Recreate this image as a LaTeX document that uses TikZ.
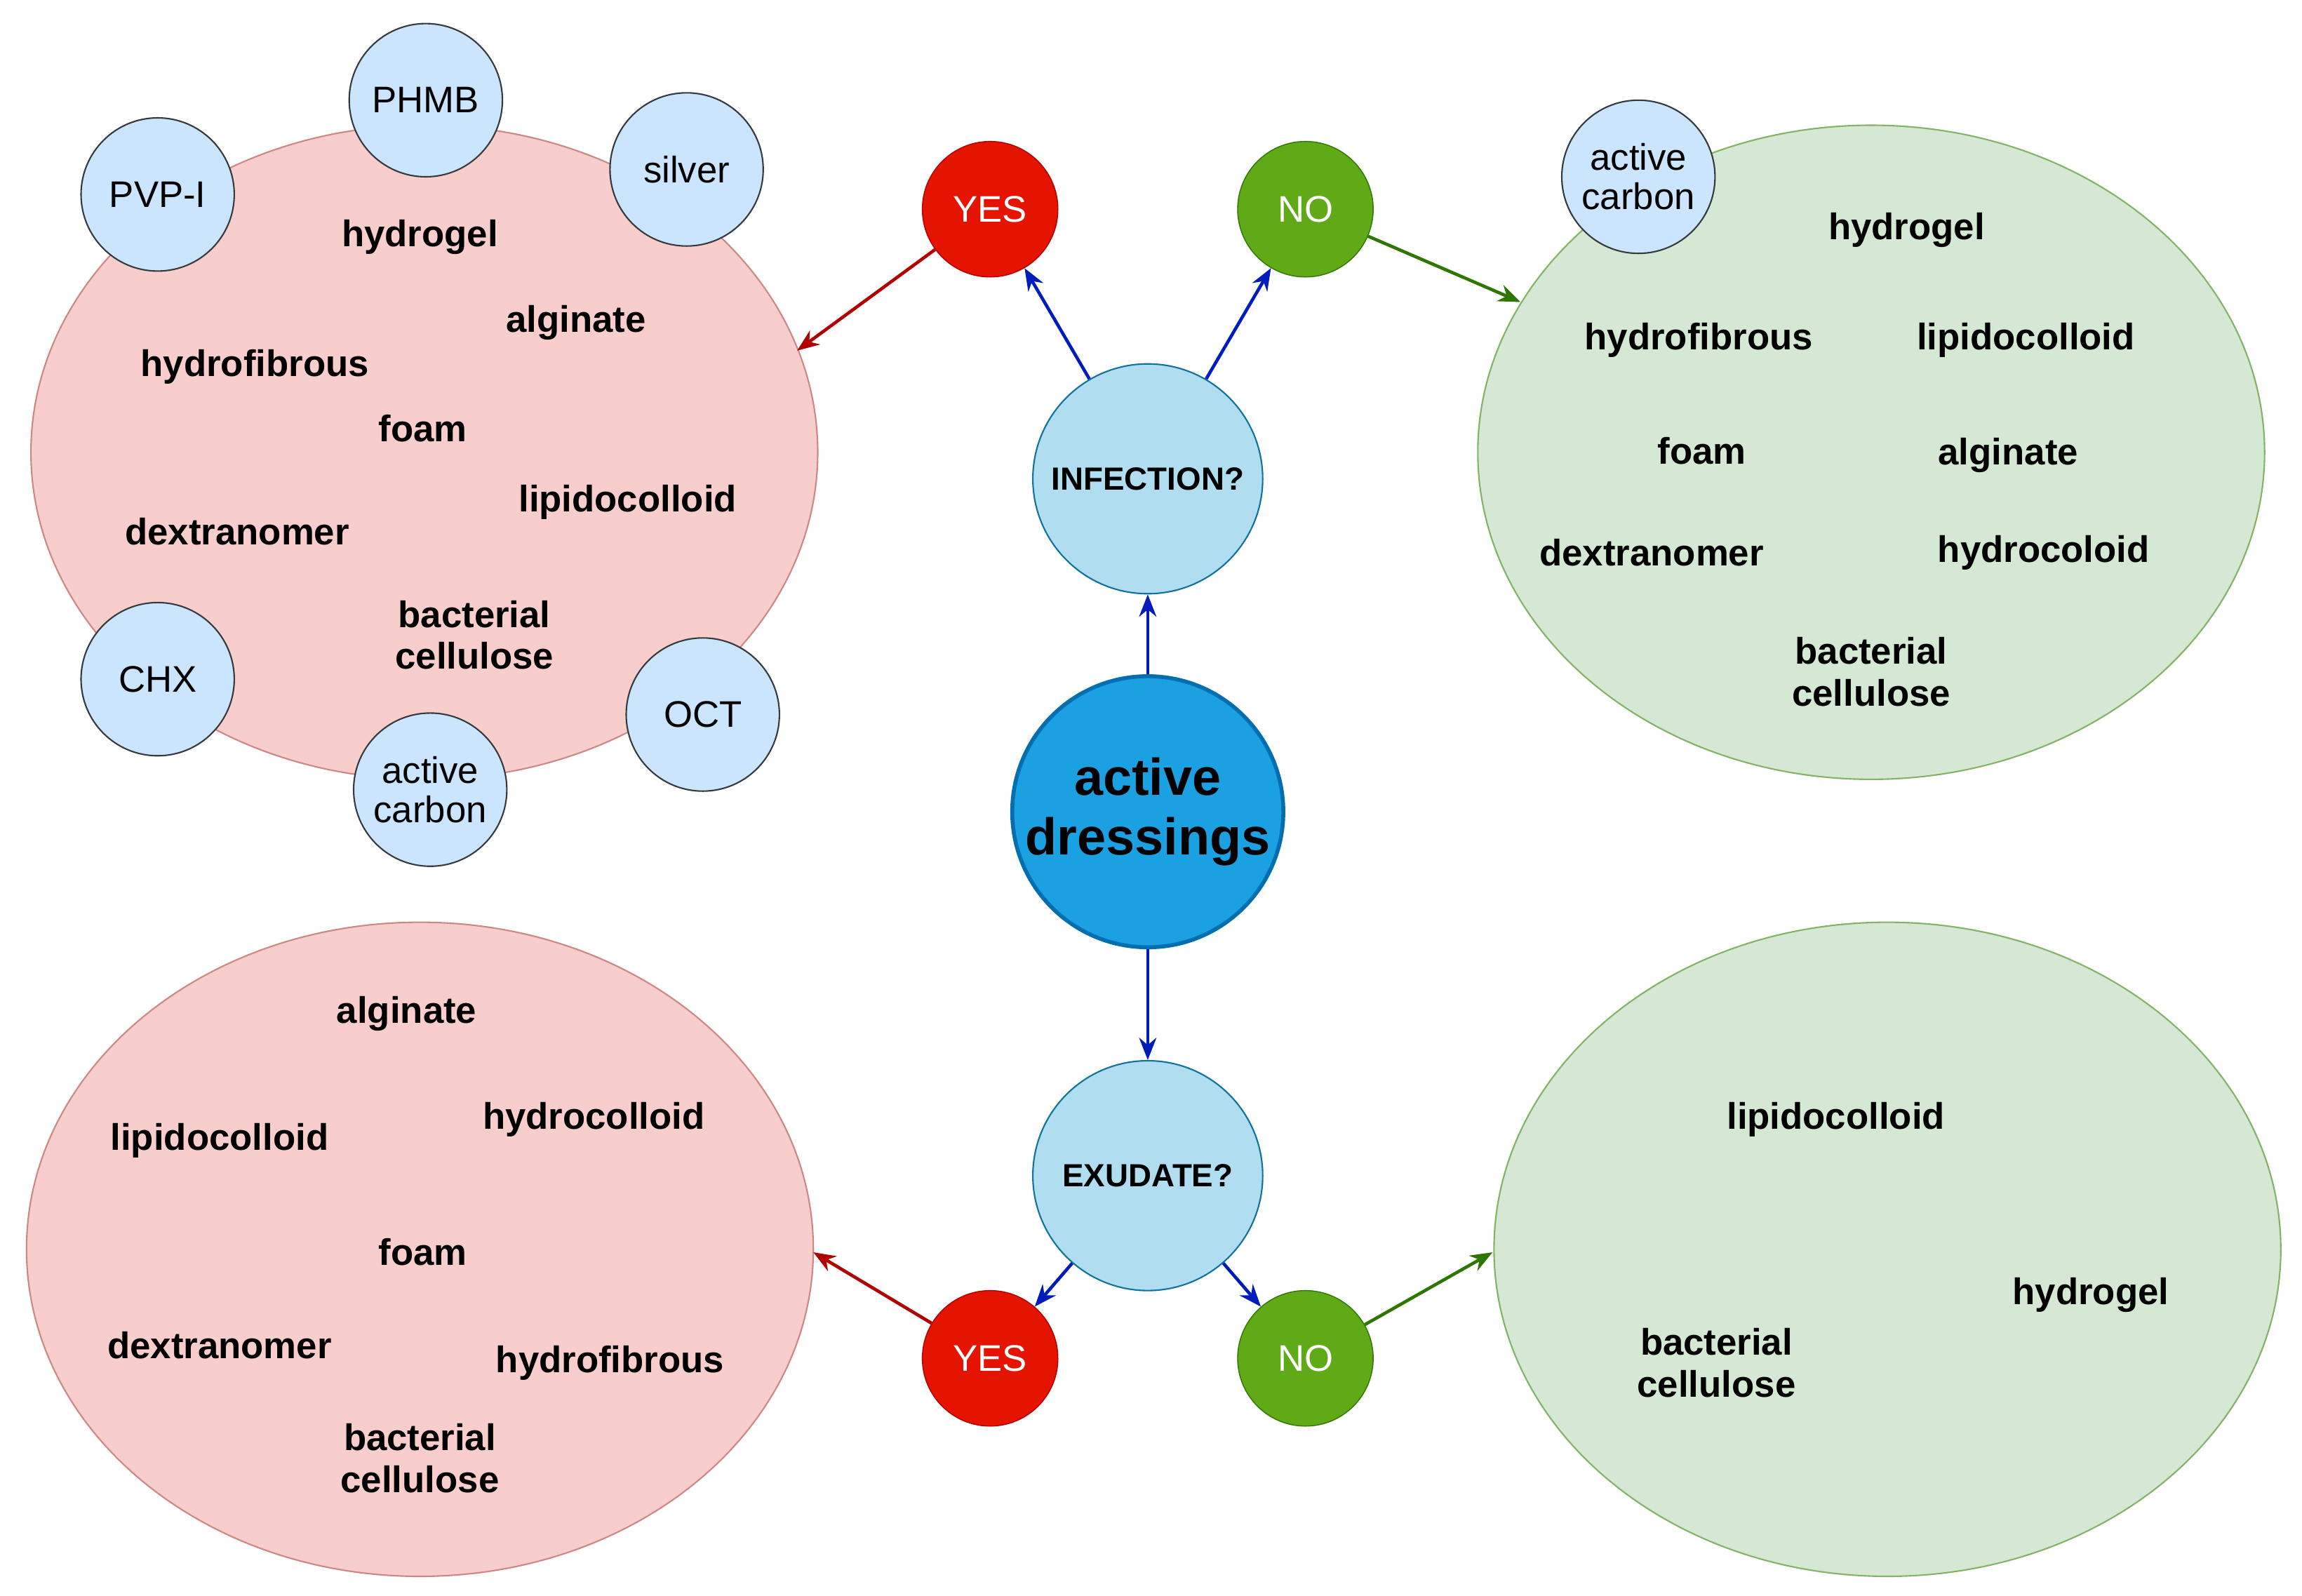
\documentclass[tikz,border=0pt]{standalone}
\usepackage{fontspec}
\setmainfont{Liberation Sans}
\usetikzlibrary{shapes.geometric,arrows.meta}
\definecolor{pinkfill}{HTML}{F8CECC}
\definecolor{pinkline}{HTML}{B85450}
\definecolor{greenfill}{HTML}{D5E8D4}
\definecolor{greenline}{HTML}{82B366}
\definecolor{smallfill}{HTML}{CCE5FF}
\definecolor{smallline}{HTML}{36393D}
\definecolor{qfill}{HTML}{B1DDF0}
\definecolor{qline}{HTML}{10739E}
\definecolor{mainfill}{HTML}{1BA1E2}
\definecolor{mainline}{HTML}{006EAF}
\definecolor{yesfill}{HTML}{E51400}
\definecolor{yesline}{HTML}{B20000}
\definecolor{nofill}{HTML}{60A917}
\definecolor{noline}{HTML}{2D7600}
\definecolor{arrblue}{HTML}{001DBC}
\tikzset{
  blob/.style={ellipse, minimum width=534*0.021cm, minimum height=444*0.021cm, line width=0.6pt},
  bad/.style={blob, fill=pinkfill, draw=pinkline!70},
  good/.style={blob, fill=greenfill, draw=greenline},
  agent/.style={circle, minimum size=104*0.021cm, inner sep=0pt, fill=smallfill, draw=smallline, line width=0.6pt,
    font=\fontsize{15}{16}\selectfont, align=center},
  quest/.style={circle, minimum size=156*0.021cm, inner sep=0pt, fill=qfill, draw=qline, line width=0.6pt,
    font=\bfseries\fontsize{13}{15}\selectfont},
  yes/.style={circle, minimum size=92*0.021cm, inner sep=0pt, fill=yesfill, draw=yesline, text=white, font=\fontsize{15}{16}\selectfont},
  no/.style={circle, minimum size=92*0.021cm, inner sep=0pt, fill=nofill, draw=noline, text=white, font=\fontsize{15}{16}\selectfont},
  item/.style={font=\bfseries\fontsize{15}{17}\selectfont, align=center},
  arr/.style={-{Stealth[length=9pt,width=7pt]}, line width=1.3pt},
}
\begin{document}
\begin{tikzpicture}[x=0.021cm,y=-0.021cm]
\useasboundingbox (0,0) rectangle (1562.4,1082.9);
% outcome ellipses
\node[bad] (infyes) at (288,307) {};
\node[good] (infno) at (1270,307) {};
\node[bad] (exyes) at (285,848) {};
\node[good] (exno) at (1281,848) {};
% agents
\node[agent] (pvp) at (107,132) {PVP-I};
\node[agent] (phmb) at (289,68) {PHMB};
\node[agent] (silver) at (466,115) {silver};
\node[agent] (chx) at (107,461) {CHX};
\node[agent] (carb1) at (292,536) {active\\carbon};
\node[agent] (oct) at (477,485) {OCT};
\node[agent] (carb2) at (1112,120) {active\\carbon};
% top-left items
\node[item] at (285,161) {hydrogel};
\node[item] at (391,219) {alginate};
\node[item] at (173,249) {hydrofibrous};
\node[item] at (287,291) {foam};
\node[item] at (426,341) {lipidocolloid};
\node[item] at (161,361) {dextranomer};
\node[item] at (322,431) {bacterial\\cellulose};
% top-right items
\node[item] at (1294,156) {hydrogel};
\node[item] at (1153,231) {hydrofibrous};
\node[item] at (1375,231) {lipidocolloid};
\node[item] at (1155,306) {foam};
\node[item] at (1363,309) {alginate};
\node[item] at (1121,375) {dextranomer};
\node[item] at (1387,375) {hydrocoloid};
\node[item] at (1270,456) {bacterial\\cellulose};
% bottom-left items
\node[item] at (276,688) {alginate};
\node[item] at (403,760) {hydrocolloid};
\node[item] at (149,774) {lipidocolloid};
\node[item] at (287,850) {foam};
\node[item] at (149,913) {dextranomer};
\node[item] at (414,925) {hydrofibrous};
\node[item] at (285,990) {bacterial\\cellulose};
% bottom-right items
\node[item] at (1246,760) {lipidocolloid};
\node[item] at (1419,879) {hydrogel};
\node[item] at (1165,925) {bacterial\\cellulose};
% decision nodes
\node[circle, minimum size=184*0.021cm, inner sep=0pt, fill=mainfill, draw=mainline, line width=1.6pt,
  font=\bfseries\fontsize{21}{24}\selectfont, align=center] (main) at (779,551) {active\\dressings};
\node[quest] (inf) at (779,325) {INFECTION?};
\node[quest] (exu) at (779,798) {EXUDATE?};
\node[yes] (y1) at (672,142) {YES};
\node[no] (n1) at (886,142) {NO};
\node[yes] (y2) at (672,922) {YES};
\node[no] (n2) at (886,922) {NO};
\coordinate (t1) at (541,238);
\coordinate (t2) at (1032,205);
\coordinate (t3) at (552,850);
\coordinate (t4) at (1013,850);
% arrows
\draw[arr, arrblue] (main) -- (inf);
\draw[arr, arrblue] (main) -- (exu);
\draw[arr, arrblue] (inf) -- (y1);
\draw[arr, arrblue] (inf) -- (n1);
\draw[arr, arrblue] (exu) -- (y2);
\draw[arr, arrblue] (exu) -- (n2);
\draw[arr, yesline] (y1) -- (t1);
\draw[arr, noline] (n1) -- (t2);
\draw[arr, yesline] (y2) -- (t3);
\draw[arr, noline] (n2) -- (t4);
\end{tikzpicture}
\end{document}
